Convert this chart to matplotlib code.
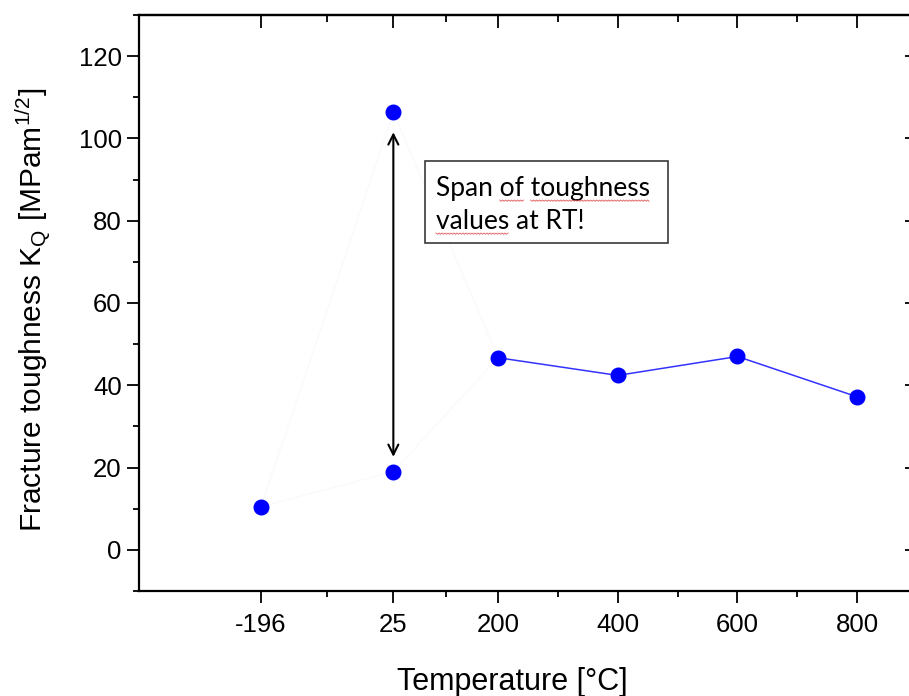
import matplotlib
matplotlib.use("Agg")
import matplotlib.pyplot as plt
import numpy as np
from matplotlib.patches import Rectangle
from matplotlib.font_manager import FontProperties

plt.rcParams['font.family'] = ['Liberation Sans', 'DejaVu Sans']
plt.rcParams['mathtext.fontset'] = 'custom'
plt.rcParams['mathtext.rm'] = 'Liberation Sans'
plt.rcParams['mathtext.it'] = 'Liberation Sans'

# ---- data ----
temps_low = [-196, 25, 25]
kq_low = [10.5, 106.4, 19.0]
temps_high = [200, 400, 600, 800]
kq_high = [46.7, 42.4, 47.0, 37.2]
x_ticks = [-196, 25, 200, 400, 600, 800]
x_tick_labels = ['-196', '25', '200', '400', '600', '800']
x_minor = [-85.5, 112.5, 300, 500, 700, 900]
y_ticks = [0, 20, 40, 60, 80, 100, 120]
y_minor = [-10, 10, 30, 50, 70, 90, 110, 130]
span_rt = [101.5, 22.6]

W, H = 909, 696
fig = plt.figure(figsize=(W / 100, H / 100), dpi=100)
ax = fig.add_axes([139 / W, 105 / H, 778 / W, 576 / H])

# faint (almost white) connecting lines in the original
ax.plot([temps_low[0], temps_low[1], temps_high[0]], [kq_low[0], kq_low[1], kq_high[0]],
        color='#fafafc', lw=1, zorder=1)
ax.plot([temps_low[0], temps_low[2], temps_high[0]], [kq_low[0], kq_low[2], kq_high[0]],
        color='#fafafc', lw=1, zorder=1)

ax.plot(temps_high, kq_high, color='#3333ff', lw=1.1, zorder=2)
ax.plot(temps_high, kq_high, 'o', color='#0000ff', ms=10.5, mec='#0000ff', zorder=3)
ax.plot(temps_low, kq_low, 'o', color='#0000ff', ms=10.5, mec='#0000ff', zorder=3)

# double arrow
ax.annotate('', xy=(25, span_rt[0]), xytext=(25, span_rt[1]),
            arrowprops=dict(arrowstyle='<->', color='black', lw=1.5,
                            mutation_scale=18, shrinkA=0, shrinkB=0))

ax.set_xlim(-400, 890)
ax.set_ylim(-10, 130)
ax.set_xticks(x_ticks)
ax.set_xticklabels(x_tick_labels)
ax.set_xticks(x_minor, minor=True)
ax.set_yticks(y_ticks)
ax.set_yticks(y_minor, minor=True)

for s in ax.spines.values():
    s.set_linewidth(1.6)

ax.tick_params(axis='both', which='major', direction='out', length=8.5, width=1.3,
               labelsize=18.5, top=False, right=False)
ax.tick_params(axis='both', which='minor', direction='out', length=4.5, width=1.3,
               top=False, right=False)
ax.tick_params(axis='x', which='major', pad=7)
ax.tick_params(axis='y', which='major', pad=4)

secx = ax.secondary_xaxis('top')
secx.set_xticks(x_ticks)
secx.set_xticks(x_minor, minor=True)
secx.tick_params(axis='x', which='major', direction='in', length=9, width=1.3, labeltop=False)
secx.tick_params(axis='x', which='minor', direction='in', length=5, width=1.3)
secx.spines['top'].set_linewidth(1.6)

secy = ax.secondary_yaxis('right')
secy.set_yticks(y_ticks)
secy.set_yticks(y_minor, minor=True)
secy.tick_params(axis='y', which='major', direction='in', length=9, width=1.3, labelright=False)
secy.tick_params(axis='y', which='minor', direction='in', length=5, width=1.3)
secy.spines['right'].set_linewidth(1.6)

# axis labels
fig.text(512 / W, 1 - 690 / H, 'Temperature [°C]', ha='center', va='baseline', fontsize=22)
fig.text(33 / W, 1 - 310 / H,
         r'Fracture toughness K$_\mathregular{Q}$ [MPam$^\mathregular{1/2}$]',
         ha='center', va='center', rotation=90, fontsize=21.5)

# text box
box_x0, box_y0, box_x1, box_y1 = 425, 161, 668, 243
fig.patches.append(Rectangle((box_x0 / W, 1 - box_y1 / H), (box_x1 - box_x0) / W,
                             (box_y1 - box_y0) / H, transform=fig.transFigure,
                             facecolor='white', edgecolor='#3a3a3a', lw=1.2, zorder=5))
fp = FontProperties(family=['Lato', 'DejaVu Sans'], size=19)
lines = ['Span of toughness', 'values at RT!']
baselines = [196, 229]
tx = 436
for ln, bl in zip(lines, baselines):
    fig.text(tx / W, 1 - bl / H, ln, fontproperties=fp, ha='left', va='baseline',
             color='black', zorder=6)

# red spell-check squiggles under some words
renderer = fig.canvas.get_renderer()
def wpx(s):
    w, h, d = renderer.get_text_width_height_descent(s, fp, ismath=False)
    return w
squiggles = [(0, 'Span ', 'of'), (0, 'Span of ', 'toughness'), (1, '', 'values')]
for li, prefix, word in squiggles:
    x0 = tx + wpx(prefix) if prefix else tx
    x1 = x0 + wpx(word)
    xs = np.arange(x0, x1, 1.5)
    ys = baselines[li] + 4 + np.where(np.arange(len(xs)) % 2 == 0, 0, 1.3)
    fig.add_artist(plt.Line2D(xs / W, 1 - ys / H, transform=fig.transFigure,
                              color='#e05a5a', lw=0.6, zorder=7))

fig.savefig('out.png', dpi=100)
